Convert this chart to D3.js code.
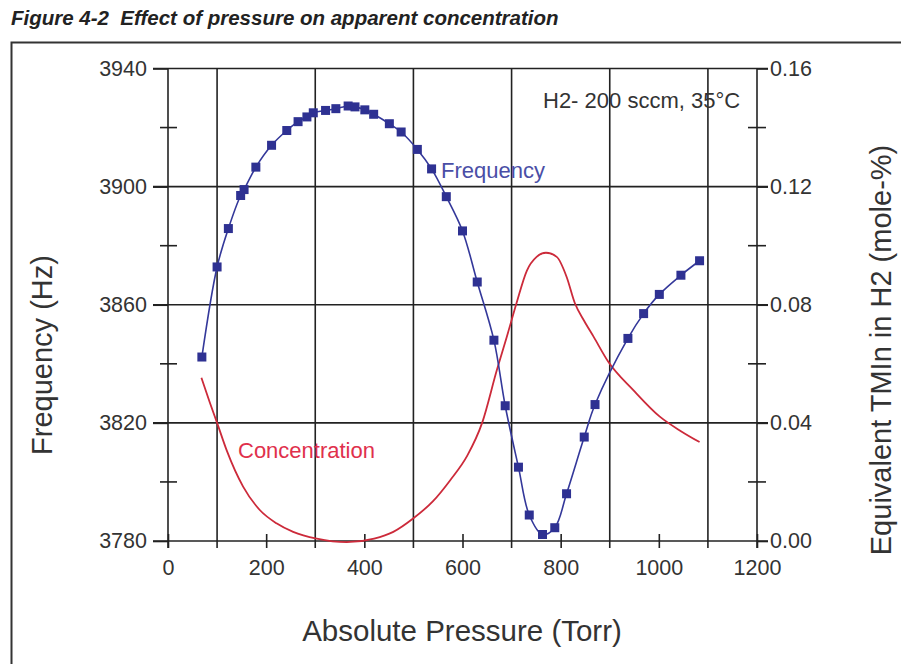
<!DOCTYPE html>
<html>
<head>
<meta charset="utf-8">
<script src="https://cdn.jsdelivr.net/npm/d3@7"></script>
<style>
  body { margin: 0; background: #fff; }
  svg { display: block; font-family: "Liberation Sans", Arial, sans-serif; }
</style>
</head>
<body>
<div id="chart"></div>
<script>
//----------------------------------------------------------------
// data
var pressure = [69, 100, 123, 148, 155, 179, 211, 242, 265, 283, 296, 321, 342, 367, 381, 401, 419, 451, 475, 508, 537, 567, 600, 630, 664, 687, 714, 736, 763, 788, 812, 848, 870, 937, 969, 1001, 1045, 1083];
var frequency = [3842.3, 3872.8, 3885.8, 3897, 3899, 3906.6, 3914, 3919, 3922, 3923.6, 3925, 3925.8, 3926.4, 3927.3, 3927, 3926, 3924.5, 3921.3, 3918.5, 3912.6, 3906, 3896.6, 3885, 3867.7, 3848, 3825.8, 3805, 3788.8, 3782.2, 3784.5, 3796, 3815.2, 3826.2, 3848.6, 3857, 3863.5, 3870, 3874.9];

var concPressure = [68, 85, 100, 120, 153, 187, 221, 255, 303, 364, 420, 459, 500, 540, 575, 610, 640, 670, 690, 710, 731, 751, 770, 792, 812, 829, 848, 867, 897, 948, 1002, 1045, 1083];
var concentration = [0.0553, 0.047, 0.040, 0.0305, 0.0184, 0.0105, 0.006, 0.0031, 0.0008, -0.0004, 0.0008, 0.0031, 0.0077, 0.0135, 0.0206, 0.029, 0.040, 0.0579, 0.069, 0.0805, 0.0915, 0.0962, 0.0976, 0.0962, 0.0895, 0.0805, 0.0745, 0.0692, 0.0607, 0.0511, 0.0421, 0.0372, 0.0335];

var xTicks = [0, 200, 400, 600, 800, 1000, 1200];
var xGrid = [100, 300, 500, 700, 900, 1100];
var freqTicks = [3780, 3820, 3860, 3900, 3940];
var freqMinor = [3800, 3840, 3880, 3920];
var concTicks = [0, 0.04, 0.08, 0.12, 0.16];
var concMinor = [0.02, 0.06, 0.10, 0.14];

//----------------------------------------------------------------
// svg
var largeur = 901, hauteur = 664;
var svg = d3.select("#chart").append("svg")
  .attr("width", largeur)
  .attr("height", hauteur);

var ink = "#222";
var blue = "#2e3192";
var red = "#cc2a3a";

var x = d3.scaleLinear().domain([0, 1200]).range([168, 757]);
var yF = d3.scaleLinear().domain([3780, 3940]).range([541, 68.5]);
var yC = d3.scaleLinear().domain([0, 0.16]).range([541, 68.5]);

// title + frame
svg.append("text")
  .attr("x", 11).attr("y", 25)
  .attr("font-size", 20.5).attr("font-style", "italic").attr("font-weight", "bold")
  .attr("fill", "#222")
  .text("Figure 4-2\u00a0 Effect of pressure on apparent concentration");

svg.append("path")
  .attr("d", "M11.5,664 V42.5 H901")
  .attr("fill", "none").attr("stroke", "#333").attr("stroke-width", 2);

//----------------------------------------------------------------
// grid
var grid = svg.append("g").attr("stroke", ink).attr("stroke-width", 1.6);
grid.selectAll(".vg").data(xGrid).enter().append("line")
  .attr("x1", function(d){ return x(d); }).attr("x2", function(d){ return x(d); })
  .attr("y1", yF(3940)).attr("y2", yF(3780) + 7);
grid.selectAll(".hg").data(freqTicks).enter().append("line")
  .attr("x1", x(0) - 15).attr("x2", x(1200) + 11)
  .attr("y1", function(d){ return yF(d); }).attr("y2", function(d){ return yF(d); });

// axes
var axL = svg.append("g").attr("transform", "translate(" + x(0) + ",0)")
  .call(d3.axisLeft(yF).tickValues(freqTicks).tickSize(15).tickPadding(6).tickFormat(d3.format("d")));
var axR = svg.append("g").attr("transform", "translate(" + x(1200) + ",0)")
  .call(d3.axisRight(yC).tickValues(concTicks).tickSize(11).tickPadding(2).tickFormat(d3.format(".2f")));
var axB = svg.append("g").attr("transform", "translate(0," + yF(3780) + ")")
  .call(d3.axisBottom(x).tickValues(xTicks).tickSize(7).tickPadding(12).tickFormat(d3.format("d")));

[axL, axR, axB].forEach(function(a){
  a.select(".domain").remove();
  a.selectAll("line").attr("stroke", ink).attr("stroke-width", 1.6);
  a.selectAll("text").attr("font-size", 21.5).attr("fill", "#333")
    .attr("font-family", "'Liberation Sans', Arial, sans-serif");
});
// bottom ticks cross the axis
axB.selectAll(".tick line").attr("y1", -7);

svg.append("line").attr("stroke", ink).attr("stroke-width", 1.6)
  .attr("x1", x(0)).attr("x2", x(0)).attr("y1", yF(3940)).attr("y2", yF(3780) + 7);
svg.append("line").attr("stroke", ink).attr("stroke-width", 1.6)
  .attr("x1", x(1200)).attr("x2", x(1200)).attr("y1", yF(3940)).attr("y2", yF(3780) + 7);

// minor ticks
svg.selectAll(".mL").data(freqMinor).enter().append("line")
  .attr("stroke", ink).attr("stroke-width", 1.6)
  .attr("x1", x(0) - 8).attr("x2", x(0) + 9)
  .attr("y1", function(d){ return yF(d); }).attr("y2", function(d){ return yF(d); });
svg.selectAll(".mR").data(concMinor).enter().append("line")
  .attr("stroke", ink).attr("stroke-width", 1.6)
  .attr("x1", x(1200) - 9).attr("x2", x(1200) + 9)
  .attr("y1", function(d){ return yC(d); }).attr("y2", function(d){ return yC(d); });

//----------------------------------------------------------------
// concentration curve
var concData = concPressure.map(function(p, i){ return [p, concentration[i]]; });
svg.append("path")
  .datum(concData)
  .attr("fill", "none").attr("stroke", red).attr("stroke-width", 1.8)
  .attr("d", d3.line()
    .x(function(d){ return x(d[0]); })
    .y(function(d){ return yC(d[1]); })
    .curve(d3.curveMonotoneX));

// frequency curve + squares
var freqData = pressure.map(function(p, i){ return [p, frequency[i]]; });
svg.append("path")
  .datum(freqData)
  .attr("fill", "none").attr("stroke", "#34389a").attr("stroke-width", 1.6)
  .attr("d", d3.line()
    .x(function(d){ return x(d[0]); })
    .y(function(d){ return yF(d[1]); })
    .curve(d3.curveCatmullRom));
svg.selectAll(".pt").data(freqData).enter().append("rect")
  .attr("x", function(d){ return x(d[0]) - 4.5; })
  .attr("y", function(d){ return yF(d[1]) - 4.5; })
  .attr("width", 9).attr("height", 9)
  .attr("fill", blue);

//----------------------------------------------------------------
// labels
svg.append("text").attr("x", 543).attr("y", 108)
  .attr("font-size", 22).attr("fill", "#333")
  .text("H2- 200 sccm, 35°C");
svg.append("text").attr("x", 441).attr("y", 178)
  .attr("font-size", 22).attr("fill", "#4a4ea6")
  .text("Frequency");
svg.append("text").attr("x", 238).attr("y", 458)
  .attr("font-size", 22).attr("fill", "#e0304c")
  .text("Concentration");

svg.append("text")
  .attr("transform", "translate(52,355) rotate(-90)")
  .attr("text-anchor", "middle")
  .attr("font-size", 29).attr("fill", "#333")
  .text("Frequency (Hz)");
svg.append("text")
  .attr("transform", "translate(891,350) rotate(-90)")
  .attr("text-anchor", "middle")
  .attr("font-size", 29).attr("fill", "#333")
  .text("Equivalent TMIn in H2 (mole-%)");
svg.append("text")
  .attr("x", 462).attr("y", 641)
  .attr("text-anchor", "middle")
  .attr("font-size", 29.5).attr("fill", "#333")
  .text("Absolute Pressure (Torr)");
</script>
</body>
</html>
